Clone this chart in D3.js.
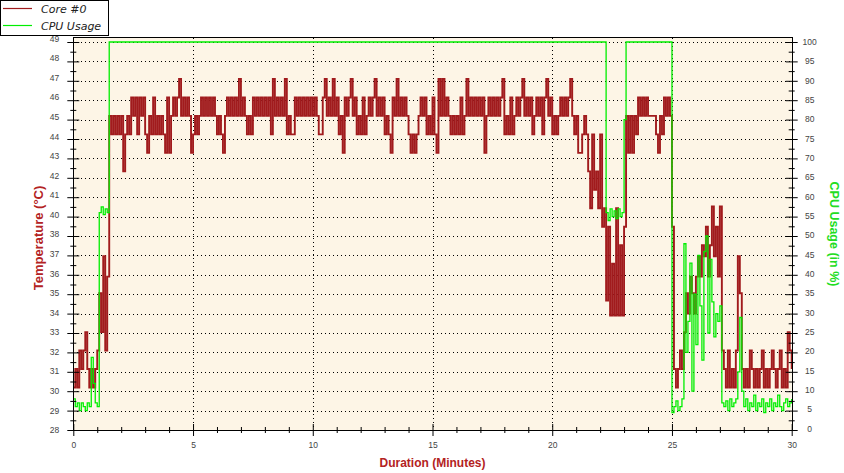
<!DOCTYPE html>
<html><head><meta charset="utf-8">
<script src="https://cdn.jsdelivr.net/npm/d3@7/dist/d3.min.js"></script>
<style>body{margin:0;background:#fff}svg{display:block}</style>
</head><body>
<svg id="c" width="844" height="473"></svg>
<script>
// ---------- DATA ----------
const seriesNames = ["Core #0", "CPU Usage"];
const tempSampleSeconds = 5;
// Core #0 temperature (°C), one reading every 5 seconds, 0 .. 1800 s
const tempC = [
 30.3,31.3,30.3,32.3,31.3,32.3,33.3,31.3,30.3,31.3,30.3,31.3,32.3,
 35.4,33.3,37.4,32.3,36.3,
 45,44,45,44,45,44,45,42,44,45,
 44,46,45,46,44,46,45,46,
 44,43,45,44,46,44,45,44,45,
 44,43,46,43,
 45,46,45,46,47,
 45,46,45,46,45,43,
 44,45,44,45,
 46,45,46,45,46,45,46,45,
 44,45,44,43,45,
 46,45,46,45,46,45,47,45,46,45,44,45,44,46,45,46,45,46,45,46,45,46,44,47,
 45,46,45,46,45,47,44,45,44,44,46,45,46,45,46,45,46,45,46,45,46,45,44,44,46,47,45,46,45,47,
 45,46,44,45,43,46,45,46,47,45,46,44,45,44,46,44,45,46,45,46,47,45,46,45,46,44,45,44,43,46,45,47,45,46,45,
 46,45,44,43,44,43,44,45,46,45,46,
 44,45,44,46,44,43,47,45,
 47,45,46,45,44,45,44,45,44,46,44,45,47,45,46,45,46,45,46,45,46,43,45,46,45,46,45,46,45,46,47,44,45,44,46,44,45,46,45,46,47,45,46,45,46,44,45,46,45,46,44,46,47,45,46,44,45,44,45,46,45,46,45,46,47,45,44,45,43,43,44,45,44,
 42,40,44,41,42,40,44,39,
 40,35,39,34.2,37,34.2,40,34.2,38,34.2,39,
 45,43,45,43,45,44,
 46,45,46,45,46,45,45,
 45,45,44,43,45,44,
 46,45,46,45,
 39,
 31.3,30.3,31.3,32.3,31.3,
 33.3,35.4,34.3,36.3,35.4,34.3,36.3,37.4,36.3,38,37.4,39,36.3,38,40.1,37.4,39,36.3,40.1,32.3,
 31.3,30.3,32.3,30.3,31.3,30.3,
 32.3,37.4,35.4,31.3,
 30.3,31.3,30.3,32.3,31.3,30.3,31.3,30.3,31.3,32.3,30.3,31.3,30.3,31.3,32.3,31.3,30.3,31.3,32.3,30.3,31.3,30.3,33.3,32.3,31.3
];
// CPU usage (%) : elapsed seconds and value
const cpuSeconds = [
 0,5,10,15,20,25,30,35,40,45,50,55,60,
 65,70,75,80,85,
 90,
 1335,1340,1345,1350,1355,1360,1365,1370,1375,
 1380,1385,
 1500,1505,1510,1515,1520,1525,
 1530,1535,1540,1545,1550,1555,1560,1565,1570,1575,1580,1585,1590,1595,1600,1605,1610,1615,1620,1625,
 1630,1635,1640,1645,1650,1655,
 1660,1665,1670,1675,
 1680,1685,1690,1695,1700,1705,1710,1715,1720,1725,1730,1735,1740,1745,1750,1755,1760,1765,1770,1775,1780,1785,1790,1795,1800
];
const cpuPct = [
 8,6,7,5,7,6,5,7,6,18.7,12,7,6,
 56,57.5,55.5,57,56,
 100,
 56,54,57,55,56.5,54.5,57,55,56,
 80,100,
 4.5,6,7.5,5,6,8,
 48,20,28,43,10,35,22,45,32,18,46,50,25,44,33,24,30,28,32,7,
 6,7.5,5,8,6,7,
 8,15,29,10,
 6,8,5,7,6,9,5,7,6,8,4.5,7,6,8,5,7,6,9,6,5,7,8,6,7,8
];
// axis tick labels
const tempTickLabels = ["28","29","30","31","32","33","34","35","36","37","38","40","41","42","43","44","45","46","47","48","49"];
const cpuTickLabels = ["0","5","10","15","20","25","30","35","40","45","50","55","60","65","70","75","80","85","90","95","100"];
const minuteTickLabels = ["0","5","10","15","20","25","30"];
const titles = {x: "Duration (Minutes)", yLeft: "Temperature (°C)", yRight: "CPU Usage (in %)"};

// ---------- STYLE / LAYOUT ----------
const L = 73.3, R = 791.7, TOP = 42, BOT = 430, FRAME_TOP = 37.5;
const RED = "#a11b1d", GREEN = "#00ee00", BG = "#fdf5e6";
const TITLE_RED = "#b32222", TITLE_GREEN = "#22dd22", TICK_COLOR = "#444";

const svg = d3.select("#c");
const x = d3.scaleLinear().domain([0, 30]).range([L, R]);
const yT = d3.scaleLinear().domain([28, 49]).range([BOT, TOP]);
const yC = d3.scaleLinear().domain([0, 100]).range([BOT, TOP]);

const tempTickValues = tempTickLabels.map((_, k) => 28 + k * (49 - 28) / 20);
const tempMinor = d3.range(20).map(k => 28 + (k + 0.5) * (49 - 28) / 20);
const cpuTickValues = cpuTickLabels.map(Number);
const cpuMinor = d3.range(20).map(k => k * 5 + 2.5);
const minuteTicks = d3.range(0, 31);

// background
svg.append("rect").attr("x", L).attr("y", FRAME_TOP).attr("width", R - L).attr("height", BOT - FRAME_TOP).attr("fill", BG);

// grid
const grid = svg.append("g").attr("stroke", "#000").attr("stroke-dasharray", "1,3").attr("shape-rendering", "crispEdges");
grid.selectAll("line.h").data(tempTickValues.slice(1)).join("line")
  .attr("x1", L).attr("x2", R).attr("y1", d => Math.round(yT(d)) + 0.5).attr("y2", d => Math.round(yT(d)) + 0.5);
grid.selectAll("line.v").data(minuteTickLabels.slice(1, -1).map(Number)).join("line")
  .attr("y1", FRAME_TOP).attr("y2", BOT).attr("x1", d => Math.round(x(d)) + 0.5).attr("x2", d => Math.round(x(d)) + 0.5);

// series
const tempPoints = tempC.map((v, i) => [i * tempSampleSeconds / 60, v]);
const cpuPoints = cpuSeconds.map((s, i) => [s / 60, cpuPct[i]]);
svg.append("path").datum(tempPoints)
  .attr("fill", "none").attr("stroke", RED).attr("stroke-width", 1.9)
  .attr("d", d3.line().x(d => x(d[0])).y(d => yT(d[1])).curve(d3.curveStepAfter));
svg.append("path").datum(cpuPoints)
  .attr("fill", "none").attr("stroke", GREEN).attr("stroke-width", 1.3)
  .attr("d", d3.line().x(d => x(d[0])).y(d => yC(d[1])).curve(d3.curveStepAfter));

// axes
const fontTick = "'Liberation Sans', Arial, sans-serif";
function styleAxis(g) {
  g.select(".domain").remove();
  g.selectAll(".tick line").attr("stroke", "#000");
  g.selectAll(".tick text").attr("fill", TICK_COLOR).attr("font-size", 8.5).attr("font-family", fontTick);
}
const gL = svg.append("g").attr("transform", `translate(${L},0)`)
  .call(d3.axisLeft(yT).tickValues(tempTickValues).tickFormat((d, i) => tempTickLabels[i]).tickSize(6).tickPadding(8));
styleAxis(gL);
gL.selectAll(".tick line").attr("x1", 6);
gL.selectAll(".tick text").attr("transform", (d, i) => `translate(0,${-0.18 * i})`);
const gLm = svg.append("g").attr("transform", `translate(${L},0)`)
  .call(d3.axisLeft(yT).tickValues(tempMinor).tickFormat("").tickSize(3));
styleAxis(gLm); gLm.selectAll(".tick line").attr("x1", 3);
const gR = svg.append("g").attr("transform", `translate(${R},0)`)
  .call(d3.axisRight(yC).tickValues(cpuTickValues).tickFormat((d, i) => cpuTickLabels[i]).tickSize(6));
styleAxis(gR);
gR.selectAll(".tick line").attr("x1", -6);
gR.selectAll(".tick text").attr("x", 18).attr("text-anchor", "middle").attr("transform", (d, i) => `translate(0,${-1.5 + 0.07 * i})`);
const gRm = svg.append("g").attr("transform", `translate(${R},0)`)
  .call(d3.axisRight(yC).tickValues(cpuMinor).tickFormat("").tickSize(3));
styleAxis(gRm); gRm.selectAll(".tick line").attr("x1", -3);
const gB = svg.append("g").attr("transform", `translate(0,${BOT})`)
  .call(d3.axisBottom(x).tickValues(minuteTicks).tickFormat(d => d % 5 === 0 ? minuteTickLabels[d / 5] : "").tickSize(6).tickPadding(5.5));
styleAxis(gB);
gB.selectAll(".tick line").attr("y1", d => d % 5 === 0 ? -6 : -3).attr("y2", d => d % 5 === 0 ? 6 : 3);
const frame = svg.append("g").attr("stroke", "#000").attr("shape-rendering", "crispEdges");
frame.append("line").attr("x1", Math.round(L) + 0.5).attr("x2", Math.round(L) + 0.5).attr("y1", FRAME_TOP).attr("y2", BOT + 0.5);
frame.append("line").attr("x1", Math.round(R) + 0.5).attr("x2", Math.round(R) + 0.5).attr("y1", FRAME_TOP).attr("y2", BOT + 0.5);
frame.append("line").attr("x1", L).attr("x2", R + 1).attr("y1", BOT + 0.5).attr("y2", BOT + 0.5);
frame.append("line").attr("x1", L).attr("x2", R + 1).attr("y1", FRAME_TOP).attr("y2", FRAME_TOP);

// titles
const fontTitle = "'Liberation Sans', Arial, sans-serif";
svg.append("text").text(titles.x).attr("x", (L + R) / 2).attr("y", 463).attr("text-anchor", "middle")
  .attr("dominant-baseline", "central").attr("font-family", fontTitle).attr("font-weight", "bold").attr("font-size", 12).attr("fill", TITLE_RED);
svg.append("text").text(titles.yLeft).attr("transform", "translate(38,238) rotate(-90)").attr("text-anchor", "middle")
  .attr("dominant-baseline", "central").attr("font-family", fontTitle).attr("font-weight", "bold").attr("font-size", 13).attr("fill", TITLE_RED);
svg.append("text").text(titles.yRight).attr("transform", "translate(834,234) rotate(90)").attr("text-anchor", "middle")
  .attr("dominant-baseline", "central").attr("font-family", fontTitle).attr("font-weight", "bold").attr("font-size", 12.5).attr("fill", TITLE_GREEN);

// legend
const lg = svg.append("g");
lg.append("rect").attr("x", 0.5).attr("y", 0.5).attr("width", 108).attr("height", 35).attr("fill", "#fff").attr("stroke", "#000");
const legendItems = seriesNames.map((n, i) => ({name: n, color: i === 0 ? RED : GREEN}));
const li = lg.selectAll("g.item").data(legendItems).join("g").attr("transform", (d, i) => `translate(0,${8.5 + i * 17})`);
li.append("line").attr("x1", 3).attr("x2", 32).attr("y1", 0).attr("y2", 0).attr("stroke", d => d.color).attr("stroke-width", 1.2);
li.append("text").text(d => d.name).attr("x", 41).attr("y", 4).attr("font-family", "'DejaVu Sans', Verdana, sans-serif")
  .attr("font-style", "italic").attr("font-size", 11).attr("fill", "#222");
</script>
</body></html>
